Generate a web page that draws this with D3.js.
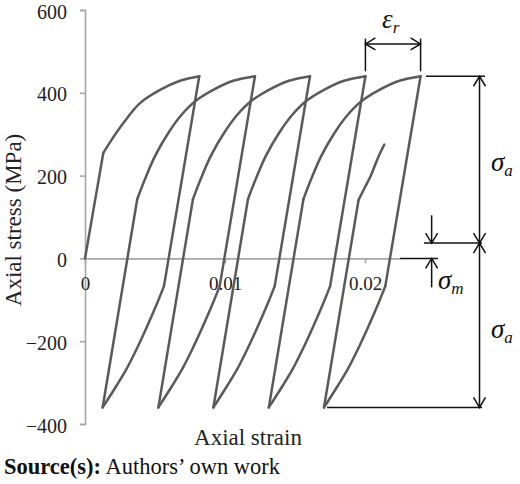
<!DOCTYPE html>
<html><head><meta charset="utf-8">
<script src="https://cdn.jsdelivr.net/npm/d3@7"></script>
<style>
html,body{margin:0;padding:0;background:#fff;}
svg{display:block;}
text{font-family:"Liberation Serif","Times New Roman",serif;}
</style></head>
<body>
<svg id="chart" width="520" height="484"></svg>
<script>
// ---- data: [axial strain, axial stress MPa] ----
// first pair of each segment = straight elastic part, the rest = curved plastic part
const initialLoading = [[0,0],[0.00131,255],[0.00191,287],[0.00274,327],[0.00393,375],[0.00536,407],[0.00679,429],[0.00816,440]];
const unload1 = [[0.00816,440],[0.00564,-67],[0.00512,-111],[0.0044,-167],[0.00369,-219],[0.00297,-267],[0.00226,-307],[0.00166,-339],[0.00126,-360]];
const load2   = [[0.00126,-360],[0.00373,143],[0.00428,191],[0.005,247],[0.00595,303],[0.0069,347],[0.00785,379],[0.00916,407],[0.01059,429],[0.01214,440]];
const unload2 = [[0.01214,440],[0.00962,-67],[0.0091,-111],[0.00838,-167],[0.00767,-219],[0.00695,-267],[0.00624,-307],[0.00564,-339],[0.00524,-360]];
const load3   = [[0.00524,-360],[0.00771,143],[0.00826,191],[0.00898,247],[0.00993,303],[0.01088,347],[0.01183,379],[0.01314,407],[0.01457,429],[0.01607,440]];
const unload3 = [[0.01607,440],[0.01355,-67],[0.01303,-111],[0.01231,-167],[0.0116,-219],[0.01088,-267],[0.01017,-307],[0.00957,-339],[0.00917,-360]];
const load4   = [[0.00917,-360],[0.01164,143],[0.01219,191],[0.01291,247],[0.01386,303],[0.01481,347],[0.01576,379],[0.01707,407],[0.0185,429],[0.02003,440]];
const unload4 = [[0.02003,440],[0.01751,-67],[0.01699,-111],[0.01627,-167],[0.01556,-219],[0.01484,-267],[0.01413,-307],[0.01353,-339],[0.01313,-360]];
const load5   = [[0.01313,-360],[0.0156,143],[0.01615,191],[0.01687,247],[0.01782,303],[0.01877,347],[0.01972,379],[0.02103,407],[0.02246,429],[0.02397,440]];
const unload5 = [[0.02397,440],[0.02145,-67],[0.02093,-111],[0.02021,-167],[0.0195,-219],[0.01878,-267],[0.01807,-307],[0.01747,-339],[0.01707,-360]];
const load6   = [[0.01707,-360],[0.01954,141],[0.01995,169],[0.02043,201],[0.0209,241],[0.02138,275]];

const yTicks = [600,400,200,0,-200,-400];
const xTicks = [0,0.01,0.02];
const xTickLabels = ["0","0.01","0.02"];
const xTitle = "Axial strain";
const yTitle = "Axial stress (MPa)";

// annotation levels (data units)
const peakStress = 440, valleyStress = -360, meanStress = 37;
const ratchetPeaks = [0.02003, 0.02397];   // εr between these two peaks
const ampX = 0.02818;                       // σa double arrow strain position
const meanArrowX = 0.02476;                 // σm arrow strain position

// ---- scales ----
const svg = d3.select("#chart");
const x = d3.scaleLinear().domain([0,0.0225]).range([85,400]);
const y = d3.scaleLinear().domain([-400,600]).range([424,10]);

const curveColor = "#5a5a5a";
const axisColor = "#a6a6a6";
const serif = "Liberation Serif";

// axes
const gy = svg.append("g").attr("transform",`translate(${x(0)},0)`)
  .call(d3.axisLeft(y).tickValues(yTicks).tickSize(5).tickPadding(13)
    .tickFormat(d => d < 0 ? "\u2212" + Math.abs(d) : String(d)));
gy.attr("font-family",serif);
gy.select(".domain").attr("stroke",axisColor).attr("stroke-width",1.6);
gy.selectAll(".tick line").attr("stroke",axisColor).attr("stroke-width",1.6);
gy.selectAll(".tick text").attr("font-size",20).attr("fill","#222").attr("dy","0.4em");

const gx = svg.append("g").attr("transform",`translate(0,${y(0)})`)
  .call(d3.axisBottom(x).tickValues(xTicks).tickSize(5).tickPadding(13)
    .tickFormat((d,i) => xTickLabels[i]).tickSizeOuter(0));
gx.attr("font-family",serif);
gx.select(".domain").attr("stroke",axisColor).attr("stroke-width",1.6);
gx.selectAll(".tick line").attr("stroke",axisColor).attr("stroke-width",1.6);
gx.selectAll(".tick text").attr("font-size",19).attr("fill","#222");

// titles
svg.append("text").attr("x",248).attr("y",445).attr("text-anchor","middle")
  .attr("font-size",23).attr("fill","#222").text(xTitle);
svg.append("text").attr("transform","translate(21,220) rotate(-90)")
  .attr("text-anchor","middle").attr("font-size",23).attr("fill","#222").text(yTitle);

// curves: straight elastic part + smooth plastic part
const straight = d3.line().x(d => x(d[0])).y(d => y(d[1]));
const smooth = d3.line().x(d => x(d[0])).y(d => y(d[1])).curve(d3.curveCatmullRom.alpha(0.5));
const segments = [initialLoading,unload1,load2,unload2,load3,unload3,load4,unload4,load5,unload5,load6];
const gc = svg.append("g").attr("fill","none").attr("stroke",curveColor).attr("stroke-width",2.5)
  .attr("stroke-linejoin","round").attr("stroke-linecap","round");
gc.selectAll("path.el").data(segments).join("path").attr("class","el")
  .attr("d", d => straight(d.slice(0,2)));
gc.selectAll("path.pl").data(segments).join("path").attr("class","pl")
  .attr("d", d => smooth(d.slice(1)));

// ---- annotations ----
const ann = svg.append("g").attr("stroke","#111").attr("stroke-width",1.5).attr("fill","none");
function seg(x1,y1,x2,y2){ ann.append("line").attr("x1",x1).attr("y1",y1).attr("x2",x2).attr("y2",y2); }
function head(px,py,dir){
  const L=10,W=6; let p;
  if(dir==="up") p=[[px-W,py+L],[px,py],[px+W,py+L]];
  if(dir==="down") p=[[px-W,py-L],[px,py],[px+W,py-L]];
  if(dir==="left") p=[[px+L,py-W],[px,py],[px+L,py+W]];
  if(dir==="right") p=[[px-L,py-W],[px,py],[px-L,py+W]];
  ann.append("path").attr("d",d3.line()(p));
}
// εr
const xa = x(ratchetPeaks[0]), xb = x(ratchetPeaks[1]);
seg(xa,y(531),xa,y(452)); seg(xb,y(531),xb,y(452));
seg(xa,y(518),xb,y(518)); head(xa,y(518),"left"); head(xb,y(518),"right");
// σa
seg(x(0.02436),y(peakStress),x(0.02857),y(peakStress));
seg(x(0.01729),y(valleyStress),x(0.02836),y(valleyStress));
seg(x(0.02421),y(meanStress),x(0.02836),y(meanStress));
seg(x(ampX),y(peakStress),x(ampX),y(valleyStress));
head(x(ampX),y(peakStress),"up"); head(x(ampX),y(meanStress),"down");
head(x(ampX),y(meanStress),"up"); head(x(ampX),y(valleyStress),"down");
// σm
seg(x(0.0225),y(0),x(0.02521),y(0));
seg(x(meanArrowX),y(104),x(meanArrowX),y(meanStress)); head(x(meanArrowX),y(meanStress),"down");
seg(x(meanArrowX),y(-70),x(meanArrowX),y(0)); head(x(meanArrowX),y(0),"up");

// symbol labels
function sym(px,py,main,sub){
  const t = svg.append("text").attr("x",px).attr("y",py).attr("font-style","italic")
    .attr("font-size",27).attr("fill","#111");
  t.append("tspan").text(main);
  t.append("tspan").attr("font-size",17).attr("dy",5).text(sub);
  return t;
}
sym(382,28,"\u03B5","r");
sym(491,171,"\u03C3","a");
sym(491,338,"\u03C3","a");
sym(438,289,"\u03C3","m");

// source line
const src = svg.append("text").attr("x",4).attr("y",474).attr("font-size",22.5).attr("fill","#111");
src.append("tspan").attr("font-weight","bold").text("Source(s):");
src.append("tspan").text(" Authors\u2019 own work");
</script>
</body></html>
